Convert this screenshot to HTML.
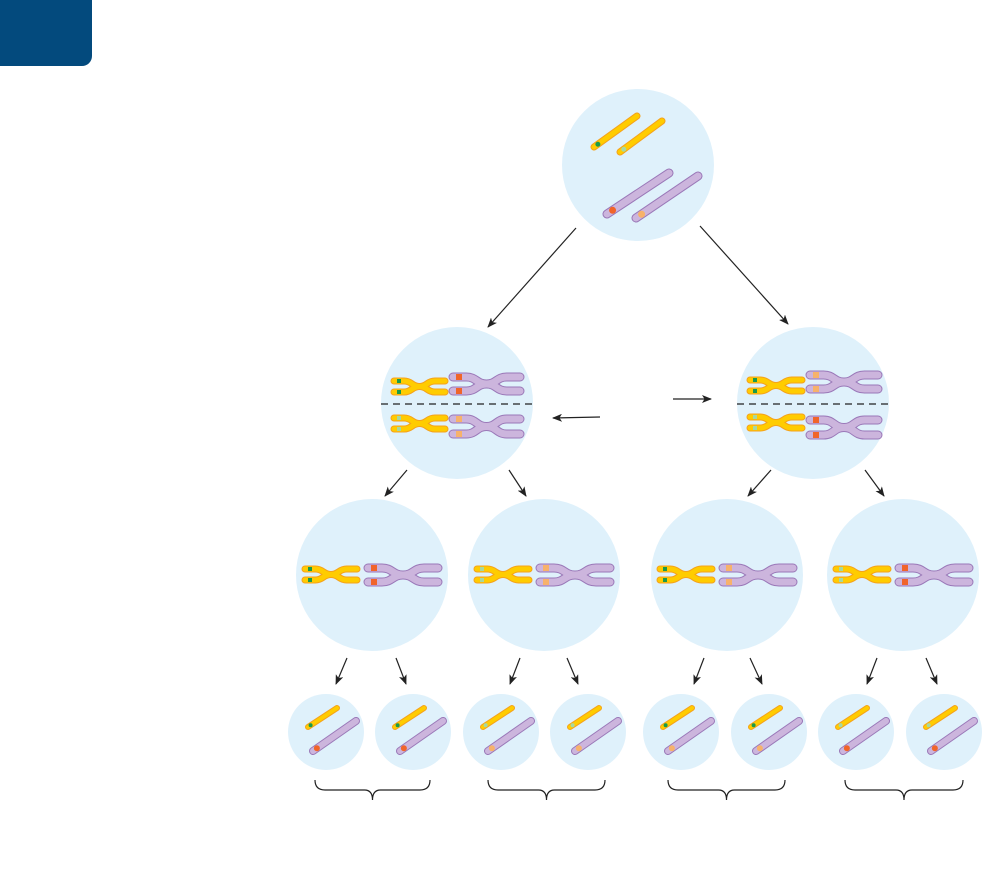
<!DOCTYPE html>
<html><head><meta charset="utf-8"><style>
html,body{margin:0;padding:0;background:#fff;width:987px;height:873px;overflow:hidden}
svg{display:block}
</style></head><body>
<svg id="s" width="987" height="873" xmlns="http://www.w3.org/2000/svg">
<defs><marker id="ah" markerWidth="10" markerHeight="8" refX="9" refY="4" orient="auto" markerUnits="userSpaceOnUse"><path d="M0,0 L10,4 L0,8 L2.5,4 Z" fill="#222"/></marker></defs>
<rect x="-10" y="-10" width="102" height="76" rx="10" fill="#034a7d"/>
</svg>
<script>
const s=document.getElementById('s');let h='';
const Y='#ffcc00',YB='#f5a21b',P='#ccb5dd',PB='#9a78b8';
const G='#1a9a4a',LG='#a8d8a0',R='#f0652a',O='#f7b26b';
function circ(x,y,r){h+=`<circle cx="${x}" cy="${y}" r="${r}" fill="#dff1fb"/>`;}
function arr(x1,y1,x2,y2){h+=`<line x1="${x1}" y1="${y1}" x2="${x2}" y2="${y2}" stroke="#222" stroke-width="1.2" marker-end="url(#ah)"/>`;}
function rod(x1,y1,x2,y2,w,c,b,m){h+=`<line x1="${x1}" y1="${y1}" x2="${x2}" y2="${y2}" stroke="${b}" stroke-width="${w+2}" stroke-linecap="round"/><line x1="${x1}" y1="${y1}" x2="${x2}" y2="${y2}" stroke="${c}" stroke-width="${w}" stroke-linecap="round"/>`;
 const t=0.09,mx=x1+(x2-x1)*t,my=y1+(y2-y1)*t;h+=`<circle cx="${mx}" cy="${my}" r="${w/2}" fill="${m}"/>`;}
function chr(x0,x1,ya,yb,w,c,b,m){const mid=(x0+x1)/2,d=(x1-x0)*0.3;
 const paths=[[ya,yb],[yb,ya]].map(([p,q])=>`M${x0},${p} L${mid-d},${p} C${mid-d/3},${p} ${mid-d/3},${q} ${mid},${(p+q)/2} C${mid+d/3},${q} ${mid+d/3},${q} ${mid+d},${q} L${x1},${q}`);
 const pp=[[ya,yb],[yb,ya]].map(([p,q])=>`M${x0},${p} L${mid-d},${p} C${mid-d/2},${p} ${mid-d/2},${(p+q)/2} ${mid},${(p+q)/2} C${mid+d/2},${(p+q)/2} ${mid+d/2},${q} ${mid+d},${q} L${x1},${q}`);
 for(const dd of pp)h+=`<path d="${dd}" fill="none" stroke="${b}" stroke-width="${w+2}" stroke-linecap="round"/>`;
 for(const dd of pp)h+=`<path d="${dd}" fill="none" stroke="${c}" stroke-width="${w}" stroke-linecap="round"/>`;
 for(const y of [ya,yb])h+=`<rect x="${x0+3}" y="${y-w/2+0.5}" width="${w-1}" height="${w-1}" fill="${m}"/>`;}
circ(638,165,76);
rod(594,147,637,116,5,Y,YB,G);rod(620,152,662,121,5,Y,YB,LG);
rod(607,214,669,173,7,P,PB,R);rod(636,218,698,176,7,P,PB,O);
arr(576,228,488,327);arr(700,226,788,324);
circ(457,403,76);circ(813,403,76);
h+=`<line x1="381" y1="404" x2="534" y2="404" stroke="#222" stroke-width="1.2" stroke-dasharray="7,5"/><line x1="737" y1="404" x2="890" y2="404" stroke="#222" stroke-width="1.2" stroke-dasharray="7,5"/>`;
chr(394,445,381,392,5,Y,YB,G);chr(453,520,377,391,7,P,PB,R);
chr(394,445,418,429,5,Y,YB,LG);chr(453,520,419,434,7,P,PB,O);
chr(750,802,380,391,5,Y,YB,G);chr(810,878,375,389,7,P,PB,O);
chr(750,802,417,428,5,Y,YB,LG);chr(810,878,420,435,7,P,PB,R);
arr(600,417,553,418);arr(673,399,711,399);
arr(407,470,385,496);arr(509,470,526,496);arr(771,470,748,496);arr(865,470,884,496);
const r3=[[372,G,R],[544,LG,O],[727,G,O],[903,LG,R]];
for(const [cx,ym,pm] of r3){circ(cx,575,76);chr(cx-67,cx-15,569,580,5,Y,YB,ym);chr(cx-4,cx+66,568,582,7,P,PB,pm);}
for(const [a,b] of [[347,336],[396,406],[520,510],[567,578],[704,694],[750,762],[877,867],[926,937]])arr(a,658,b,684);
const r4=[[326,G,R],[413,G,R],[501,LG,O],[588,LG,O],[681,G,O],[769,G,O],[856,LG,R],[944,LG,R]];
for(const [cx,ym,pm] of r4){circ(cx,732,38);rod(cx-18,727,cx+11,708,4,Y,YB,ym);rod(cx-13,751,cx+30,721,6,P,PB,pm);}
for(const [a,b] of [[315,430],[488,605],[668,785],[845,963]]){const m=(a+b)/2;
h+=`<path d="M${a},780 Q${a},790 ${a+10},790 L${m-8},790 Q${m},790 ${m},800 Q${m},790 ${m+8},790 L${b-10},790 Q${b},790 ${b},780" fill="none" stroke="#222" stroke-width="1.2"/>`;}
s.insertAdjacentHTML('beforeend',h);
</script>
</body></html>
